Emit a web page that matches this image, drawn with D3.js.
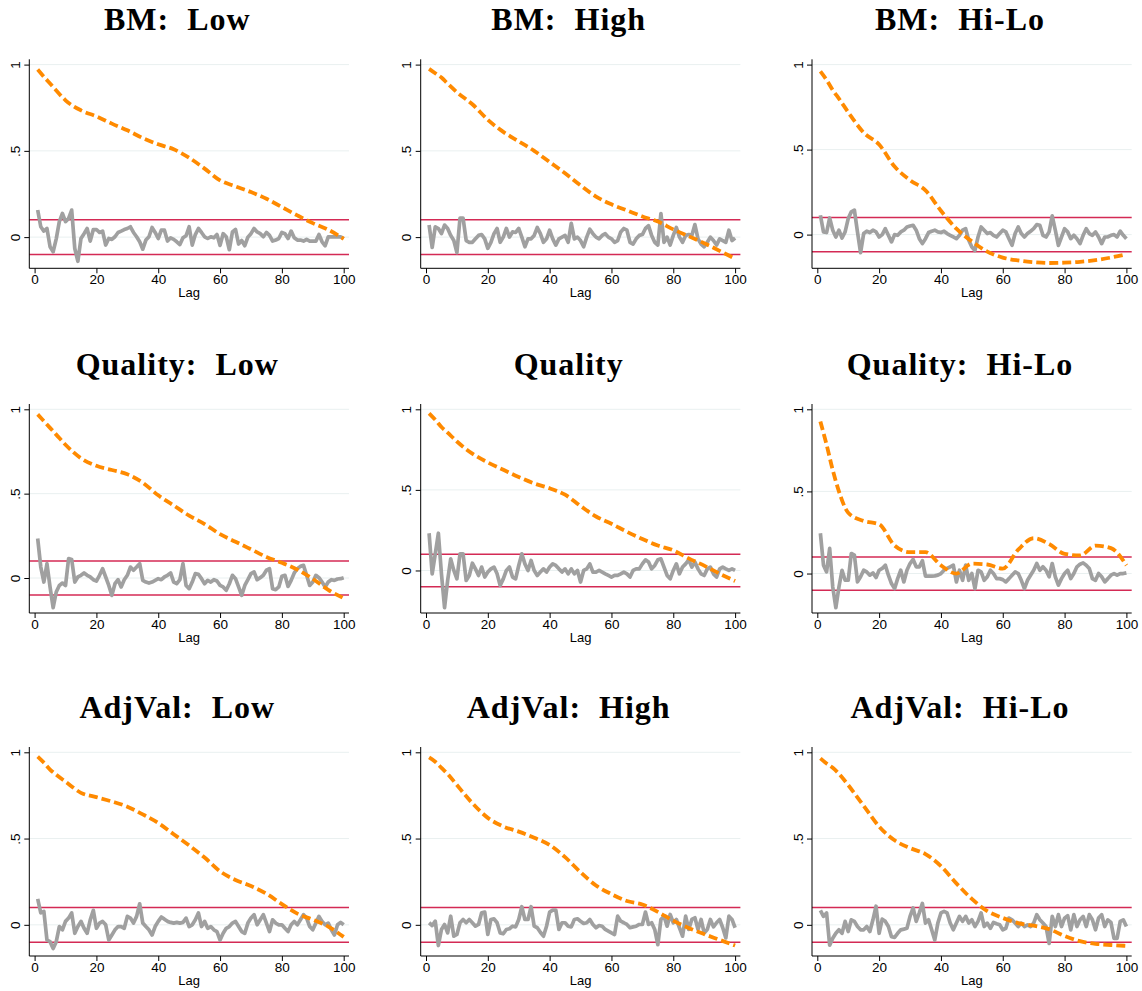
<!DOCTYPE html>
<html>
<head>
<meta charset="utf-8">
<script src="https://cdn.jsdelivr.net/npm/d3@7"></script>
<style>
  body { margin: 0; background: #fff; }
  svg { display: block; }
</style>
</head>
<body>
<div id="chart"></div>
<script>
// panel titles, row by row
const titles = ["BM:  Low", "BM:  High", "BM:  Hi-Lo",
                "Quality:  Low", "Quality", "Quality:  Hi-Lo",
                "AdjVal:  Low", "AdjVal:  High", "AdjVal:  Hi-Lo"];

// autocorrelation (orange, dashed) read at these lags
const acfLags = [1, 3, 5, 7, 10, 15, 20, 25, 30, 35, 40, 45, 50, 55, 60, 65, 70, 75, 80, 85, 90, 95, 100];

const acfBmLow = [0.971, 0.93, 0.89, 0.85, 0.793, 0.735, 0.70, 0.658, 0.619, 0.574, 0.538, 0.509, 0.46, 0.397, 0.329, 0.294, 0.261, 0.222, 0.174, 0.126, 0.081, 0.043, -0.01];
const acfBmHigh = [0.975, 0.95, 0.925, 0.89, 0.84, 0.77, 0.68, 0.61, 0.555, 0.50, 0.435, 0.37, 0.30, 0.235, 0.19, 0.155, 0.12, 0.09, 0.045, 0.005, -0.035, -0.08, -0.125];
const acfBmHiLo = [0.96, 0.91, 0.85, 0.80, 0.72, 0.60, 0.53, 0.40, 0.32, 0.26, 0.14, 0.035, -0.04, -0.10, -0.135, -0.152, -0.162, -0.167, -0.165, -0.16, -0.15, -0.135, -0.115];
const acfQualLow = [0.97, 0.93, 0.89, 0.85, 0.79, 0.71, 0.665, 0.64, 0.615, 0.565, 0.49, 0.43, 0.37, 0.32, 0.26, 0.215, 0.17, 0.125, 0.09, 0.05, -0.005, -0.07, -0.12];
const acfQual = [0.975, 0.935, 0.89, 0.855, 0.80, 0.725, 0.67, 0.625, 0.58, 0.54, 0.51, 0.47, 0.40, 0.335, 0.29, 0.24, 0.195, 0.155, 0.125, 0.075, 0.03, -0.02, -0.065];
const acfQualHiLo = [0.925, 0.785, 0.63, 0.50, 0.37, 0.32, 0.30, 0.17, 0.13, 0.13, 0.05, 0.0, 0.06, 0.055, 0.03, 0.145, 0.215, 0.18, 0.12, 0.11, 0.17, 0.155, 0.05];
const acfAdjLow = [0.975, 0.94, 0.90, 0.87, 0.83, 0.765, 0.74, 0.715, 0.685, 0.64, 0.59, 0.525, 0.46, 0.39, 0.31, 0.26, 0.225, 0.18, 0.12, 0.065, 0.03, -0.01, -0.07];
const acfAdjHigh = [0.97, 0.945, 0.91, 0.875, 0.81, 0.705, 0.62, 0.57, 0.54, 0.505, 0.463, 0.392, 0.305, 0.228, 0.178, 0.138, 0.118, 0.075, 0.024, -0.018, -0.054, -0.087, -0.12];
const acfAdjHiLo = [0.965, 0.935, 0.91, 0.875, 0.81, 0.69, 0.57, 0.49, 0.445, 0.41, 0.34, 0.24, 0.15, 0.08, 0.04, 0.01, -0.005, -0.025, -0.065, -0.095, -0.11, -0.117, -0.122];

// partial autocorrelation (grey), lags 1..100
const pacfBmLow = [
  0.157, 0.06, 0.035, 0.05, -0.056, -0.085, -0.01, 0.09, 0.137, 0.09,
  0.108, 0.157, -0.066, -0.14, -0.008, 0.02, 0.05, -0.023, 0.044, 0.044,
  0.027, 0.035, -0.046, -0.008, -0.013, 0.002, 0.027, 0.035, 0.044, 0.05,
  0.06, 0.027, 0.002, -0.027, -0.07, -0.017, 0.002, 0.056, 0.027, -0.008,
  0.04, 0.04, -0.023, -0.004, -0.013, -0.027, -0.043, -0.004, 0.008, 0.06,
  -0.046, 0.015, 0.05, 0.027, 0.002, -0.008, 0.002, -0.004, 0.015, -0.048,
  0.02, 0.002, -0.073, 0.03, 0.045, -0.04, -0.02, -0.05, 0.0, 0.02,
  0.05, 0.03, 0.02, 0.002, 0.027, 0.01, -0.023, -0.017, -0.008, 0.027,
  0.02, -0.008, 0.035, -0.004, -0.017, -0.017, -0.023, -0.013, -0.023, -0.023,
  -0.023, 0.015, -0.027, -0.05, 0.002, 0.002, 0.002, 0.002, 0.002, -0.008];
const pacfBmHigh = [
  0.07, -0.06, 0.06, 0.05, 0.02, 0.07, 0.05, 0.01, -0.02, -0.09,
  0.11, 0.11, -0.02, -0.03, -0.03, -0.01, 0.01, 0.015, -0.01, -0.065,
  -0.03, 0.02, 0.05, -0.03, 0.0, 0.05, 0.0, 0.03, 0.027, 0.05,
  0.0, -0.056, -0.01, -0.01, 0.01, 0.056, 0.02, -0.03, -0.01, 0.04,
  -0.01, -0.046, -0.01, 0.0, 0.01, -0.03, 0.08, -0.01, 0.0, -0.02,
  -0.056, 0.0, 0.046, 0.02, 0.0, -0.01, 0.01, 0.02, 0.0, -0.01,
  -0.03, -0.02, 0.03, 0.05, 0.04, -0.03, -0.04, -0.01, 0.01, 0.015,
  0.05, 0.066, 0.01, -0.03, -0.046, 0.137, -0.03, 0.0, -0.046, 0.01,
  0.056, 0.0, -0.03, 0.01, 0.015, 0.01, 0.073, -0.01, -0.04, -0.056,
  -0.03, 0.0, -0.02, -0.046, -0.01, -0.02, -0.03, 0.04, -0.02, -0.005];
const pacfBmHiLo = [
  0.114, 0.016, 0.012, 0.098, 0.026, -0.014, 0.026, -0.02, 0.016, 0.094,
  0.134, 0.144, 0.016, -0.106, 0.006, 0.02, 0.012, 0.026, 0.016, -0.014,
  0.0, 0.035, -0.004, -0.043, 0.0, -0.004, 0.016, 0.026, 0.045, 0.051,
  0.055, 0.026, -0.024, -0.053, -0.024, 0.012, 0.02, 0.026, 0.016, 0.012,
  0.02, 0.006, -0.004, -0.014, -0.024, -0.004, 0.026, 0.035, -0.033, -0.073,
  -0.093, -0.014, 0.045, 0.026, 0.006, 0.012, -0.004, -0.014, 0.006, 0.026,
  0.016, -0.024, -0.063, 0.006, 0.045, 0.006, -0.014, 0.006, 0.02, 0.035,
  0.059, 0.055, -0.004, -0.014, 0.016, 0.11, 0.026, -0.063, -0.014, 0.035,
  0.016, -0.024, -0.004, -0.024, -0.053, -0.004, 0.035, 0.006, -0.004, 0.016,
  -0.014, -0.053, -0.014, -0.014, -0.004, 0.0, -0.014, 0.02, -0.004, -0.024];
const pacfQualLow = [
  0.234, 0.065, -0.024, 0.085, -0.053, -0.176, -0.083, -0.044, -0.03, -0.044,
  0.115, 0.109, -0.024, 0.006, 0.016, 0.03, 0.016, 0.006, -0.01, -0.018,
  0.016, 0.055, 0.006, -0.044, -0.103, -0.034, -0.01, -0.053, -0.01, 0.016,
  0.065, 0.046, 0.065, 0.085, -0.014, -0.024, -0.03, -0.024, -0.014, -0.004,
  -0.01, 0.006, 0.016, 0.03, -0.024, -0.034, -0.01, 0.085, -0.044, -0.063,
  -0.024, 0.026, 0.022, -0.004, -0.034, -0.014, -0.024, -0.01, -0.018, -0.044,
  -0.053, -0.073, -0.034, 0.016, -0.004, -0.053, -0.103, -0.044, -0.01, 0.026,
  0.036, -0.01, 0.002, 0.016, 0.046, 0.055, -0.063, -0.069, -0.053, 0.01,
  0.016, -0.05, -0.014, 0.03, 0.055, 0.069, 0.075, 0.016, -0.044, -0.024,
  0.016, 0.002, -0.024, -0.053, -0.024, -0.01, -0.014, -0.006, -0.004, 0.002];
const pacfQual = [
  0.231, -0.021, 0.103, 0.231, -0.021, -0.231, -0.062, 0.072, 0.0, -0.052,
  0.103, 0.103, -0.062, -0.031, 0.045, 0.01, -0.031, 0.021, -0.041, -0.01,
  0.01, 0.021, -0.021, -0.093, -0.052, 0.0, 0.021, -0.041, -0.052, 0.031,
  0.103, 0.041, 0.0, 0.062, 0.0, -0.031, -0.01, 0.01, -0.01, 0.021,
  0.041, 0.031, 0.01, -0.01, 0.01, -0.021, 0.01, -0.021, 0.0, -0.072,
  0.0, 0.01, 0.041, -0.01, -0.01, 0.0, -0.01, -0.021, -0.031, -0.041,
  -0.031, -0.031, -0.021, -0.01, -0.021, -0.041, 0.0, 0.01, 0.01, 0.041,
  0.066, 0.052, 0.01, 0.031, 0.066, 0.072, 0.021, -0.031, -0.052, 0.0,
  0.041, -0.021, 0.021, 0.041, 0.066, 0.021, 0.052, 0.01, -0.021, -0.031,
  0.01, 0.021, -0.021, -0.041, 0.01, 0.021, 0.01, 0.0, 0.01, 0.0];
const pacfQualHiLo = [
  0.245, 0.051, 0.01, 0.153, -0.082, -0.208, -0.082, 0.02, -0.041, -0.041,
  0.122, 0.112, -0.051, -0.02, 0.02, 0.01, -0.01, 0.004, -0.024, 0.02,
  0.031, 0.051, -0.01, -0.061, -0.092, -0.031, 0.02, -0.051, 0.02, 0.061,
  0.086, 0.041, 0.041, 0.078, -0.016, -0.016, -0.016, -0.014, -0.01, 0.0,
  0.02, 0.031, 0.041, 0.051, -0.051, 0.02, -0.041, 0.051, -0.041, 0.0,
  -0.092, 0.02, 0.01, -0.041, -0.02, 0.02, 0.0, -0.031, -0.031, -0.037,
  -0.051, -0.031, -0.01, 0.01, 0.0, -0.041, -0.092, -0.041, -0.01, 0.02,
  0.061, 0.02, 0.041, 0.02, -0.02, 0.061, -0.02, -0.071, -0.031, 0.0,
  0.02, -0.031, 0.0, 0.041, 0.057, 0.065, 0.051, 0.031, -0.031, -0.041,
  0.0, -0.02, -0.051, -0.031, -0.01, 0.0, -0.01, 0.0, 0.0, 0.004];
const pacfAdjLow = [
  0.151, 0.069, 0.078, -0.088, -0.098, -0.137, -0.098, -0.01, -0.029, 0.02,
  0.039, 0.069, -0.049, -0.01, 0.02, -0.02, -0.049, 0.029, 0.084, -0.02,
  0.01, 0.02, 0.0, -0.088, -0.059, -0.029, -0.01, -0.01, -0.02, 0.049,
  0.039, 0.01, 0.049, 0.122, 0.01, -0.01, -0.029, -0.059, -0.01, 0.02,
  0.045, 0.033, 0.02, 0.014, 0.01, 0.014, 0.01, 0.014, 0.039, -0.01,
  0.0, 0.029, 0.069, -0.01, 0.02, -0.02, -0.01, -0.029, -0.039, -0.088,
  -0.049, -0.02, -0.01, 0.01, 0.02, -0.01, -0.039, -0.049, 0.01, 0.039,
  0.059, 0.0, 0.029, 0.059, 0.01, -0.039, 0.029, 0.01, 0.0, 0.0,
  -0.02, -0.039, 0.0, 0.02, 0.0, 0.029, 0.059, 0.039, -0.01, -0.029,
  0.01, 0.049, 0.02, 0.0, 0.01, -0.029, -0.059, 0.0, 0.014, 0.0];
const pacfAdjHigh = [
  0.012, -0.004, 0.021, -0.12, -0.027, 0.002, -0.047, 0.05, -0.066, -0.056,
  0.012, 0.031, 0.012, 0.031, 0.012, -0.008, 0.002, 0.07, 0.074, -0.056,
  0.031, 0.035, 0.012, -0.047, -0.052, -0.027, -0.023, -0.008, -0.012, 0.031,
  0.105, 0.031, 0.031, 0.105, -0.008, -0.017, -0.043, -0.066, -0.008, 0.074,
  0.085, 0.085, -0.027, 0.012, 0.012, -0.008, -0.012, 0.031, 0.035, 0.021,
  0.008, 0.012, 0.031, 0.002, -0.017, -0.004, -0.008, -0.027, -0.037, -0.047,
  -0.056, 0.05, 0.021, 0.012, 0.002, -0.017, -0.012, -0.008, 0.002, 0.002,
  0.074, 0.002, 0.012, -0.027, -0.115, 0.031, 0.05, -0.008, 0.06, 0.012,
  0.031, -0.017, -0.066, 0.05, -0.027, 0.031, 0.041, -0.027, 0.031, -0.047,
  -0.027, 0.031, -0.012, 0.012, 0.031, -0.017, -0.076, 0.05, 0.031, -0.017];
const pacfAdjHiLo = [
  0.084, 0.049, 0.069, -0.118, -0.078, -0.049, -0.029, -0.049, 0.02, -0.039,
  0.029, 0.02, -0.01, -0.029, -0.029, -0.01, -0.039, 0.029, 0.108, -0.049,
  0.033, 0.02, -0.01, -0.069, -0.073, -0.049, -0.029, -0.025, -0.02, 0.049,
  0.098, 0.02, 0.069, 0.124, 0.01, 0.029, -0.029, -0.088, 0.01, 0.069,
  0.078, 0.069, 0.01, -0.029, 0.01, 0.049, 0.02, 0.049, 0.01, 0.029,
  -0.01, 0.02, 0.069, -0.01, 0.01, -0.02, 0.014, 0.006, 0.0, -0.029,
  -0.02, 0.039, 0.029, 0.01, -0.01, 0.01, -0.01, 0.0, -0.01, 0.01,
  0.059, 0.029, 0.01, -0.01, -0.108, 0.049, -0.01, 0.059, -0.01, 0.039,
  0.053, -0.029, 0.059, -0.01, 0.029, 0.049, -0.01, 0.059, 0.029, -0.029,
  0.039, 0.059, -0.01, 0.029, 0.014, -0.078, -0.078, 0.02, 0.029, -0.01];

const xTicks = [0, 20, 40, 60, 80, 100];
const yTicks = [0, 0.5, 1];
const yTickLabels = ["0", ".5", "1"];
const band = 0.101;      // +/- confidence band
const yFloor = -0.15;    // lowest value the y axis always reaches

const acfSeries = [acfBmLow, acfBmHigh, acfBmHiLo, acfQualLow, acfQual, acfQualHiLo, acfAdjLow, acfAdjHigh, acfAdjHiLo];
const pacfSeries = [pacfBmLow, pacfBmHigh, pacfBmHiLo, pacfQualLow, pacfQual, pacfQualHiLo, pacfAdjLow, pacfAdjHigh, pacfAdjHiLo];

// layout of the 3x3 grid
const colX = [29.3, 420.7, 812];
const rowY = [59.3, 404, 747];
const plotW = 319.7;
const plotH = 209;
const pad = 5.3;

const svg = d3.select("#chart")
  .append("svg")
  .attr("width", 1142)
  .attr("height", 991);

titles.forEach((title, i) => {
  const acf = acfSeries[i];
  const pacf = pacfSeries[i];
  const col = i % 3;
  const row = Math.floor(i / 3);

  const g = svg.append("g")
    .attr("transform", `translate(${colX[col]}, ${rowY[row]})`);

  const xScale = d3.scaleLinear()
    .domain([0, 100])
    .range([pad, plotW - pad]);

  const lo = Math.min(yFloor, d3.min(acf), d3.min(pacf));
  const yScale = d3.scaleLinear()
    .domain([lo, 1])
    .range([plotH - pad, pad]);

  // title
  g.append("text")
    .attr("x", 148)
    .attr("y", -29)
    .attr("text-anchor", "middle")
    .style("font-family", "'Liberation Serif', 'DejaVu Serif', serif")
    .style("font-weight", "bold")
    .style("font-size", "32px")
    .style("letter-spacing", "1px")
    .style("white-space", "pre")
    .text(title);

  // light grid lines
  g.selectAll(".grid")
    .data(yTicks)
    .join("line")
    .attr("class", "grid")
    .attr("x1", 0)
    .attr("x2", plotW)
    .attr("y1", d => yScale(d))
    .attr("y2", d => yScale(d))
    .attr("stroke", "#e9f0f0")
    .attr("stroke-width", 1);

  // confidence band
  g.selectAll(".band")
    .data([band, -band])
    .join("line")
    .attr("class", "band")
    .attr("x1", 0)
    .attr("x2", plotW)
    .attr("y1", d => yScale(d))
    .attr("y2", d => yScale(d))
    .attr("stroke", "#d42a55")
    .attr("stroke-width", 1.5);

  // partial autocorrelations
  const pacfLine = d3.line()
    .x((d, j) => xScale(j + 1))
    .y(d => yScale(d));

  g.append("path")
    .datum(pacf)
    .attr("d", pacfLine)
    .attr("fill", "none")
    .attr("stroke", "#a0a0a0")
    .attr("stroke-width", 3.7)
    .attr("stroke-linejoin", "round");

  // autocorrelations
  const acfLine = d3.line()
    .x((d, j) => xScale(acfLags[j]))
    .y(d => yScale(d))
    .curve(d3.curveMonotoneX);

  g.append("path")
    .datum(acf)
    .attr("d", acfLine)
    .attr("fill", "none")
    .attr("stroke", "#ff8a00")
    .attr("stroke-width", 3.8)
    .attr("stroke-dasharray", "9,4");

  // y axis
  const yAxis = g.append("g")
    .call(d3.axisLeft(yScale)
      .tickValues(yTicks)
      .tickFormat((d, j) => yTickLabels[j])
      .tickSize(5));
  yAxis.select(".domain").remove();
  yAxis.selectAll("text")
    .attr("x", 0)
    .attr("dy", 0)
    .attr("text-anchor", "middle")
    .attr("transform", "translate(-9.5, 0) rotate(-90)")
    .style("font-family", "'Liberation Sans', Arial, sans-serif")
    .style("font-size", "13.5px")
    .attr("fill", "#000");

  // x axis
  const xAxis = g.append("g")
    .attr("transform", `translate(0, ${plotH})`)
    .call(d3.axisBottom(xScale)
      .tickValues(xTicks)
      .tickSize(5)
      .tickPadding(1));
  xAxis.select(".domain").remove();
  xAxis.selectAll("text")
    .style("font-family", "'Liberation Sans', Arial, sans-serif")
    .style("font-size", "13.5px")
    .attr("fill", "#000");

  // axis lines span the full plot region
  g.append("line")
    .attr("x1", 0).attr("x2", 0)
    .attr("y1", 0).attr("y2", plotH)
    .attr("stroke", "#000");
  g.append("line")
    .attr("x1", 0).attr("x2", plotW)
    .attr("y1", plotH).attr("y2", plotH)
    .attr("stroke", "#000");

  g.append("text")
    .attr("x", (xScale(0) + xScale(100)) / 2)
    .attr("y", plotH + 29)
    .attr("text-anchor", "middle")
    .style("font-family", "'Liberation Sans', Arial, sans-serif")
    .style("font-size", "13px")
    .text("Lag");
});
</script>
</body>
</html>
